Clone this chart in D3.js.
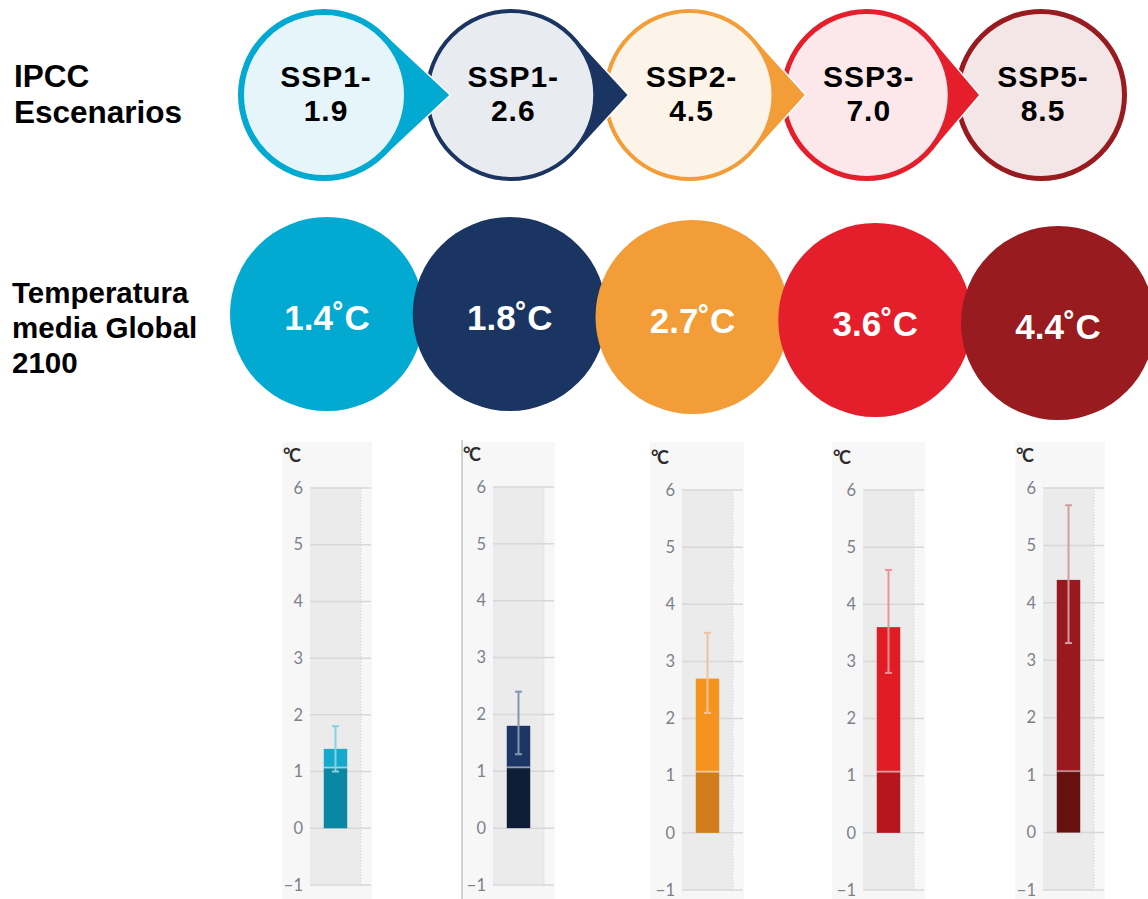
<!DOCTYPE html>
<html><head><meta charset="utf-8">
<script src="https://cdn.jsdelivr.net/npm/d3@7"></script>
<style>html,body{margin:0;padding:0;background:#fff;} svg{display:block}</style>
</head><body>
<svg id="c" width="1148" height="899"></svg>
<script>
// ---------- data ----------
const scenarios = ["SSP1-1.9","SSP1-2.6","SSP2-4.5","SSP3-7.0","SSP5-8.5"];
const warming2100 = [1.4, 1.8, 2.7, 3.6, 4.4];
const rangeLow = [1.0, 1.3, 2.1, 2.8, 3.3];
const rangeHigh = [1.8, 2.4, 3.5, 4.6, 5.7];
const observedToDate = [1.07, 1.07, 1.07, 1.07, 1.07];
const yTicks = [-1, 0, 1, 2, 3, 4, 5, 6];
const rowLabel1 = ["IPCC", "Escenarios"];
const rowLabel2 = ["Temperatura", "media Global", "2100"];
const unitLabel = "°C";

// ---------- styles ----------
const mainColors = ["#02a9d1","#1a3562","#f29d38","#e41f2b","#981b20"];
const paleFills  = ["#e6f5fa","#e8ebf0","#fdf4e9","#fce8ea","#f4e6e7"];
const barTop     = ["#17a9cc","#1c3766","#f5931f","#e01c25","#981a1f"];
const barBase    = ["#0a87a3","#0f1d37","#d17d1c","#b8161e","#66110f"];
const whiskerCol = ["#80d3e3","#8298b0","#f1c39c","#f29096","#d29ca1"];

const svg = d3.select("#c");
const boldFont = "'Liberation Sans', Arial, sans-serif";

// ---------- left labels ----------
const lab1 = svg.append("text").attr("font-family", boldFont).attr("font-weight", "bold")
  .attr("font-size", 31.5).attr("fill", "#000");
rowLabel1.forEach((t, i) => lab1.append("tspan").attr("x", 14).attr("y", 87 + i * 36).text(t));
const lab2 = svg.append("text").attr("font-family", boldFont).attr("font-weight", "bold")
  .attr("font-size", 29.5).attr("fill", "#000");
rowLabel2.forEach((t, i) => lab2.append("tspan").attr("x", 12).attr("y", 303 + i * 35).text(t));

// ---------- top row: scenario teardrops ----------
const topX = d3.scalePoint().domain(scenarios).range([324, 1041]);
const topNudge = [0, 8, 7, 5, 0];
const topStroke = [6, 4, 4, 5, 5];
const topCy = 95, rOuter = 86;
const tops = scenarios.map((s, i) => ({ s, i, cx: topX(s) + topNudge[i] }));

const topG = svg.append("g");
// draw right-to-left so each arrow lies over the following circle
tops.slice().reverse().forEach(d => {
  const g = topG.append("g");
  const next = tops[d.i + 1];
  if (next) {
    const tip = next.cx - rOuter + 24;
    const dist = tip - d.cx;
    const R = rOuter - 0.5;
    const th = Math.acos(R / dist);
    const p1 = [d.cx + R * Math.cos(th), topCy - R * Math.sin(th)];
    const p2 = [d.cx + R * Math.cos(th), topCy + R * Math.sin(th)];
    g.append("path")
      .attr("d", `M${p1[0]},${p1[1]}L${tip},${topCy}L${p2[0]},${p2[1]}`)
      .attr("fill", "none").attr("stroke", "#fff").attr("stroke-width", 3)
      .attr("stroke-linejoin", "miter");
    g.append("path")
      .attr("d", `M${p1[0]},${p1[1]}L${tip},${topCy}L${p2[0]},${p2[1]}Z`)
      .attr("fill", mainColors[d.i]);
  }
  g.append("circle").attr("cx", d.cx).attr("cy", topCy)
    .attr("r", rOuter - topStroke[d.i] / 2)
    .attr("fill", paleFills[d.i]).attr("stroke", mainColors[d.i]).attr("stroke-width", topStroke[d.i]);
  const parts = d.s.split("-");
  const t = g.append("text").attr("font-family", boldFont).attr("font-weight", "bold")
    .attr("font-size", 30).attr("letter-spacing", 1).attr("fill", "#000").attr("text-anchor", "middle");
  t.append("tspan").attr("x", d.cx + 2).attr("y", 87).text(parts[0] + "-");
  t.append("tspan").attr("x", d.cx + 2).attr("y", 121).text(parts[1]);
});

// ---------- second row: temperature circles ----------
const midX = d3.scalePoint().domain(scenarios).range([327, 1058]);
const midCy = [314, 314, 317, 320, 323];
const midR = 97;
const midG = svg.append("g");
scenarios.forEach((s, i) => {
  midG.append("circle").attr("cx", midX(s)).attr("cy", midCy[i]).attr("r", midR)
    .attr("fill", mainColors[i]);
  midG.append("text").attr("x", midX(s)).attr("y", midCy[i] + 16)
    .attr("text-anchor", "middle").attr("font-family", boldFont).attr("font-weight", "bold")
    .attr("font-size", 35).attr("fill", "#fff")
    .text(d3.format(".1f")(warming2100[i]) + "˚C");
});

// ---------- bottom row: mini bar charts ----------
const bgLeft = [282, 462, 650, 832, 1015];
const bandLeft = [310, 493, 682, 863, 1043];
const bandW = 51;
const yTopPx = [488, 487, 490, 490, 488];
const yBotPx = [885, 885, 890, 890, 890];
const bgTop = 442, bgBot = 899;

scenarios.forEach((s, i) => {
  const g = svg.append("g");
  const y = d3.scaleLinear().domain([-1, 6]).range([yBotPx[i], yTopPx[i]]);
  const x = d3.scaleBand().domain([s]).range([bandLeft[i], bandLeft[i] + bandW]).padding(0.37);
  const right = bandLeft[i] + bandW + 10;

  g.append("rect").attr("x", bgLeft[i]).attr("y", bgTop)
    .attr("width", right - bgLeft[i] + 1).attr("height", bgBot - bgTop).attr("fill", "#f7f7f7");
  g.append("rect").attr("x", bandLeft[i]).attr("y", y(6))
    .attr("width", bandW).attr("height", y(-1) - y(6)).attr("fill", "#ebebeb");
  if (i === 1) {
    g.append("line").attr("x1", bgLeft[i]).attr("x2", bgLeft[i]).attr("y1", 440).attr("y2", 899)
      .attr("stroke", "#c4c4c4").attr("stroke-width", 1.5);
  }
  // gridlines
  g.selectAll(".grid").data(yTicks).join("line")
    .attr("x1", bandLeft[i]).attr("x2", right)
    .attr("y1", d => y(d)).attr("y2", d => y(d))
    .attr("stroke", "#d8d8d8").attr("stroke-width", 1.5);
  g.append("line").attr("x1", bandLeft[i] + bandW).attr("x2", bandLeft[i] + bandW)
    .attr("y1", y(6)).attr("y2", y(-1))
    .attr("stroke", "#d2d2d2").attr("stroke-width", 1).attr("stroke-dasharray", "1,2");

  // axis labels
  const ax = g.append("g").attr("transform", `translate(${bandLeft[i] - 2},0)`)
    .call(d3.axisLeft(y).tickValues(yTicks).tickSize(0).tickPadding(5).tickFormat(d3.format("d")));
  ax.select(".domain").remove();
  ax.selectAll("text").attr("font-family", "Lato, sans-serif").attr("font-size", 16.5)
    .attr("fill", "#7c818a");
  g.append("text").attr("x", bgLeft[i] + 1).attr("y", y(6) - 26)
    .attr("font-family", "Lato, sans-serif").attr("font-weight", "bold").attr("font-size", 18)
    .attr("letter-spacing", -1.5).attr("fill", "#2d2d2d").text(unitLabel);

  // bars
  const bx = x(s), bw = x.bandwidth();
  g.append("rect").attr("x", bx).attr("width", bw)
    .attr("y", y(observedToDate[i])).attr("height", y(0) - y(observedToDate[i]))
    .attr("fill", barBase[i]);
  g.append("rect").attr("x", bx).attr("width", bw)
    .attr("y", y(warming2100[i])).attr("height", y(observedToDate[i]) - y(warming2100[i]))
    .attr("fill", barTop[i]);
  g.append("line").attr("x1", bx).attr("x2", bx + bw)
    .attr("y1", y(observedToDate[i])).attr("y2", y(observedToDate[i]))
    .attr("stroke", "#fff").attr("stroke-opacity", 0.45).attr("stroke-width", 2);

  // whisker
  const cx = bx + bw / 2;
  g.append("line").attr("x1", cx).attr("x2", cx)
    .attr("y1", y(rangeLow[i])).attr("y2", y(rangeHigh[i]))
    .attr("stroke", whiskerCol[i]).attr("stroke-width", 2);
  [rangeLow[i], rangeHigh[i]].forEach(v => {
    g.append("line").attr("x1", cx - 3.5).attr("x2", cx + 3.5)
      .attr("y1", y(v)).attr("y2", y(v))
      .attr("stroke", whiskerCol[i]).attr("stroke-width", 2);
  });
});
</script>
</body></html>
